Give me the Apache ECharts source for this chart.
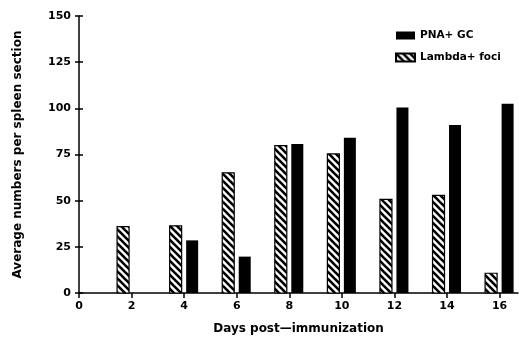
<!DOCTYPE html>
<html>
<head>
<meta charset="utf-8">
<script src="https://cdn.jsdelivr.net/npm/echarts@6/dist/echarts.min.js"></script>
<style>
  html, body { margin: 0; padding: 0; background: #fff; }
  #chart { width: 519px; height: 343px; }
</style>
</head>
<body>
<div id="chart"></div>
<script>
// days post-immunization
const days = [2, 4, 6, 8, 10, 12, 14, 16];
// Lambda+ foci (hatched bars)
const lambdaFoci = [35.9, 36.4, 65.1, 79.8, 75.3, 50.7, 52.9, 10.7];
// PNA+ GC (black bars)
const pnaGC = [0, 28.5, 19.7, 80.7, 84.1, 100.5, 91, 102.5];
const xTicks = [0, 2, 4, 6, 8, 10, 12, 14, 16];
const yTicks = [0, 25, 50, 75, 100, 125, 150];

const font = "DejaVu Sans";

// hatch pattern: backslash stripes
const makeHatch = () => {
  const s = 7;
  const c = document.createElement("canvas");
  c.width = s;
  c.height = s;
  const ctx = c.getContext("2d");
  ctx.fillStyle = "#fff";
  ctx.fillRect(0, 0, s, s);
  ctx.strokeStyle = "#000";
  ctx.lineWidth = 2.6;
  [-s, 0, s].forEach((d) => {
    ctx.beginPath();
    ctx.moveTo(d - 1, -1);
    ctx.lineTo(d + s + 1, s + 1);
    ctx.stroke();
  });
  return c;
};
const hatch = { image: makeHatch(), repeat: "repeat" };

const barItem = (left, width) => (params, api) => {
  const x = api.value(0);
  const v = api.value(1);
  if (!v) return null;
  const top = api.coord([x, v]);
  const base = api.coord([x, 0]);
  return {
    type: "rect",
    shape: { x: top[0] + left, y: top[1], width, height: base[1] - top[1] },
    style: api.style(),
  };
};

const chart = echarts.init(document.getElementById("chart"));
chart.setOption({
  animation: false,
  textStyle: { fontFamily: font },
  grid: { left: 79, right: 1, top: 16, bottom: 50 },
  legend: {
    orient: "vertical",
    left: 390,
    top: 25,
    itemWidth: 19,
    itemHeight: 8,
    itemGap: 11,
    textStyle: { fontFamily: font, fontSize: 10.5, fontWeight: "bold", color: "#000" },
    data: [
      { name: "PNA+ GC", icon: "rect" },
      { name: "Lambda+ foci", icon: "rect" },
    ],
  },
  xAxis: {
    type: "value",
    min: 0,
    max: 16.7,
    interval: 2,
    name: "Days post\u2014immunization",
    nameLocation: "middle",
    nameGap: 30,
    nameTextStyle: { fontFamily: font, fontSize: 12, fontWeight: "bold", color: "#000" },
    splitLine: { show: false },
    axisLine: { lineStyle: { color: "#000", width: 1.5 } },
    axisTick: { length: 5, lineStyle: { color: "#000", width: 1.5 }, customValues: xTicks },
    axisLabel: {
      color: "#000",
      fontSize: 11,
      fontWeight: "bold",
      margin: 8,
      customValues: xTicks,
    },
  },
  yAxis: [
    {
      type: "value",
      min: 0,
      max: 150,
      interval: 25,
      name: "Average numbers per spleen section",
      nameLocation: "middle",
      nameGap: 55,
      nameTextStyle: { fontFamily: font, fontSize: 12, fontWeight: "bold", color: "#000" },
      splitLine: { show: false },
      axisLine: { show: true, lineStyle: { color: "#000", width: 1.5 } },
      axisTick: { show: true, length: 4, lineStyle: { color: "#000", width: 1.5 }, customValues: yTicks },
      axisLabel: { color: "#000", fontSize: 11, fontWeight: "bold", margin: 8, customValues: yTicks },
    },
    {
      // inner half of the crossing ticks
      type: "value",
      position: "left",
      min: 0,
      max: 150,
      interval: 25,
      splitLine: { show: false },
      axisLine: { show: false },
      axisLabel: { show: false },
      axisTick: { show: true, inside: true, length: 4, lineStyle: { color: "#000", width: 1.5 } },
    },
  ],
  series: [
    {
      name: "PNA+ GC",
      type: "custom",
      renderItem: barItem(2, 12),
      itemStyle: { color: "#000" },
      data: days.map((d, i) => [d, pnaGC[i]]),
      z: 3,
    },
    {
      name: "Lambda+ foci",
      type: "custom",
      renderItem: barItem(-14.5, 12),
      itemStyle: { color: hatch, borderColor: "#000", borderWidth: 1.2 },
      data: days.map((d, i) => [d, lambdaFoci[i]]),
      z: 3,
    },
  ],
});
</script>
</body>
</html>
